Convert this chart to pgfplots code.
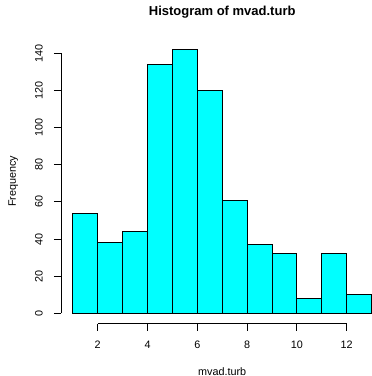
\documentclass[border=0pt]{standalone}
\usepackage{fontspec}
\setmainfont{Liberation Sans}
\usepackage{pgfplots}
\pgfplotsset{compat=1.18}
\definecolor{rcyan}{RGB}{0,255,255}
\begin{document}
\begin{tikzpicture}
\path[use as bounding box] (0,0) rectangle (372bp,376bp);
\begin{axis}[
  at={(60.9bp,52.15bp)}, anchor=south west,
  scale only axis, width=322.6bp, height=284.8bp,
  xmin=0.52, xmax=13.48, ymin=-5.68, ymax=147.68,
  axis line style={draw=none},
  clip=false,
  xtick={2,4,6,8,10,12}, ytick={0,20,...,140},
  xtick pos=bottom, ytick pos=left,
  tick align=outside, major tick length=7bp,
  tick style={black, line width=0.8bp},
  /pgf/number format/assume math mode=true,
  ticklabel style={font=\fontsize{10.8bp}{13bp}\selectfont},
  xticklabel style={anchor=center, yshift=-14bp},
  yticklabel style={rotate=90, anchor=center, yshift=15bp},
]
\addplot[ybar interval, fill=rcyan, draw=black, line width=0.9bp] coordinates {
(1,54) (2,38) (3,44) (4,134) (5,142) (6,120) (7,61) (8,37) (9,32) (10,8) (11,32) (12,10) (13,10)};
\draw[line width=0.8bp] (axis cs:2,-5.68) -- (axis cs:12,-5.68);
\draw[line width=0.8bp] (axis cs:0.52,0) -- (axis cs:0.52,140);
\end{axis}
\node[font=\fontsize{13bp}{15bp}\selectfont\bfseries] at (222.2bp,364bp) {Histogram of mvad.turb};
\node[font=\fontsize{10.8bp}{13bp}\selectfont, rotate=90] at (13.3bp,194.6bp) {Frequency};
\node[font=\fontsize{10.8bp}{13bp}\selectfont] at (222.2bp,4.6bp) {mvad.turb};
\end{tikzpicture}
\end{document}
